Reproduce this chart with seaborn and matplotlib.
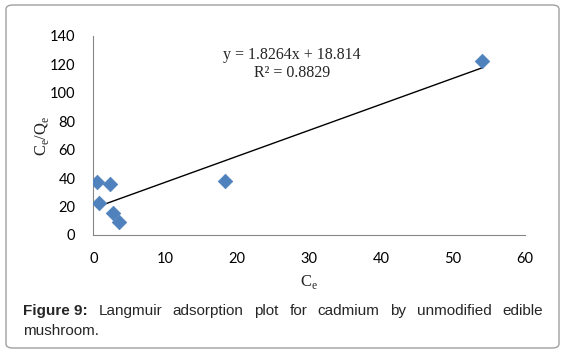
import matplotlib
matplotlib.use("Agg")
import matplotlib.pyplot as plt
import seaborn as sns
import numpy as np
import pandas as pd
from matplotlib.patches import FancyBboxPatch

# Data
ce = [0.46, 0.8, 2.37, 2.77, 3.57, 18.3, 54.1]
ce_qe = [37.0, 22.7, 35.6, 15.2, 8.9, 37.7, 122.7]
slope = 1.8264
intercept = 18.814
r2 = 0.8829
x_ticks = [0, 10, 20, 30, 40, 50, 60]
y_ticks = [0, 20, 40, 60, 80, 100, 120, 140]

sns.set_theme(style="white")
plt.rcParams['font.family'] = ['Lato', 'DejaVu Sans']

fig = plt.figure(figsize=(5.66, 3.56), dpi=100)
ax = fig.add_axes([0.165, 0.340, 0.762, 0.559])

df = pd.DataFrame({"Ce": ce, "CeQe": ce_qe})
sns.scatterplot(data=df, x="Ce", y="CeQe", marker="D", s=55, color="#4F81BD",
                edgecolor="#4F81BD", linewidth=0.5, ax=ax, zorder=3)
xl = np.array([min(ce), max(ce)])
sns.lineplot(x=xl, y=slope * xl + intercept, color="black", linewidth=1.0, ax=ax, zorder=2)

ax.set_xlim(0, 60)
ax.set_ylim(0, 140)
ax.set_xticks(x_ticks)
ax.set_yticks(y_ticks)
ax.tick_params(axis="both", length=0, labelsize=10.5, colors="black")
ax.tick_params(axis="x", pad=12)
ax.tick_params(axis="y", pad=13)
for s in ["top", "right"]:
    ax.spines[s].set_visible(False)
for s in ["left", "bottom"]:
    ax.spines[s].set_color("#868686")
    ax.spines[s].set_linewidth(0.8)

ax.set_xlabel("C$_\\mathregular{e}$", family="Liberation Serif", fontsize=12)
ax.set_ylabel("C$_\\mathregular{e}$/Q$_\\mathregular{e}$", family="Liberation Serif", fontsize=12)
ax.xaxis.set_label_coords(0.5, -0.19)
ax.yaxis.set_label_coords(-0.098, 0.5)

ax.text(0.46, 0.905, f"y = {slope}x + {intercept}", transform=ax.transAxes,
        ha="center", va="center", family="Liberation Serif", fontsize=11.5)
ax.text(0.46, 0.815, f"R² = {r2}", transform=ax.transAxes,
        ha="center", va="center", family="Liberation Serif", fontsize=11.5)

# Rounded frame
box = FancyBboxPatch((6 / 566, 1 - 348 / 356), 553 / 566, 343 / 356,
                     boxstyle="round,pad=0,rounding_size=0.012",
                     transform=fig.transFigure, facecolor="none",
                     edgecolor="#A0A0A0", linewidth=1.0)
fig.patches.append(box)

# Justified caption
fig.canvas.draw()
renderer = fig.canvas.get_renderer()
fs = 11
left_px, right_px = 23, 543
y1 = 1 - 311 / 356
y2 = 1 - 331 / 356
words = [("Figure 9:", "bold"), ("Langmuir", "normal"), ("adsorption", "normal"),
         ("plot", "normal"), ("for", "normal"), ("cadmium", "normal"), ("by", "normal"),
         ("unmodified", "normal"), ("edible", "normal")]
texts = []
for w, wt in words:
    t = fig.text(0, y1, w, fontsize=fs, fontweight=wt, family="Liberation Sans",
                 va="center", ha="left")
    texts.append(t)
widths = [t.get_window_extent(renderer).width for t in texts]
gap = (right_px - left_px - sum(widths)) / (len(widths) - 1)
x = left_px
for t, w in zip(texts, widths):
    t.set_x(x / 566)
    x += w + gap
fig.text(left_px / 566, y2, "mushroom.", fontsize=fs, family="Liberation Sans",
         va="center", ha="left")

fig.savefig("out.png", dpi=100)
